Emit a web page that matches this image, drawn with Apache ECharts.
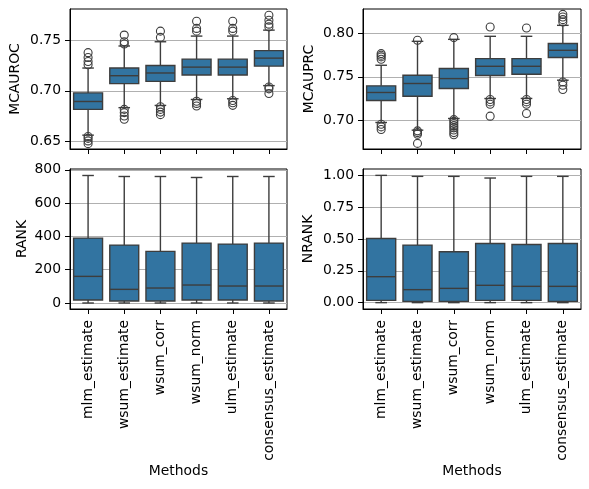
<!DOCTYPE html>
<html>
<head>
<meta charset="utf-8">
<script src="https://cdn.jsdelivr.net/npm/echarts@6/dist/echarts.min.js"></script>
<style>
  html, body { margin: 0; padding: 0; background: #ffffff; }
  #chart { width: 589px; height: 489px; }
</style>
</head>
<body>
<div id="chart"></div>
<script>
const methods = ['mlm_estimate', 'wsum_estimate', 'wsum_corr', 'wsum_norm', 'ulm_estimate', 'consensus_estimate']

// each row: [whisker low, q1, median, q3, whisker high]
const mcaurocStats = [
  [0.6562, 0.6817, 0.6895, 0.6980, 0.7226],
  [0.6834, 0.7072, 0.7150, 0.7226, 0.7444],
  [0.6856, 0.7094, 0.7177, 0.7251, 0.7486],
  [0.6915, 0.7157, 0.7235, 0.7314, 0.7542],
  [0.6922, 0.7157, 0.7235, 0.7314, 0.7542],
  [0.7052, 0.7245, 0.7324, 0.7398, 0.7601]
]
const mcaurocOutliers = [
  [0.7378, 0.7330, 0.7290, 0.7258, 0.6548, 0.6530, 0.6505, 0.6478],
  [0.7552, 0.7486, 0.7464, 0.6817, 0.6785, 0.6751, 0.6719],
  [0.7591, 0.7529, 0.6843, 0.6817, 0.6790, 0.6765],
  [0.7689, 0.7618, 0.7591, 0.6898, 0.6876, 0.6850],
  [0.7689, 0.7618, 0.7591, 0.6905, 0.6883, 0.6857],
  [0.7748, 0.7699, 0.7660, 0.7633, 0.7039, 0.7020, 0.6974]
]

const mcauprcStats = [
  [0.6972, 0.7227, 0.7319, 0.7396, 0.7634],
  [0.6883, 0.7276, 0.7423, 0.7518, 0.7911],
  [0.7018, 0.7365, 0.7480, 0.7596, 0.7934],
  [0.7249, 0.7515, 0.7622, 0.7711, 0.7969],
  [0.7250, 0.7530, 0.7622, 0.7711, 0.7969],
  [0.7461, 0.7723, 0.7807, 0.7885, 0.8096]
]
const mcauprcOutliers = [
  [0.7769, 0.7750, 0.7731, 0.7704, 0.6952, 0.6921, 0.6891],
  [0.7923, 0.6875, 0.6855, 0.6835, 0.6730],
  [0.7954, 0.7005, 0.6985, 0.6960, 0.6935, 0.6910, 0.6885, 0.6855, 0.6830],
  [0.8077, 0.7238, 0.7210, 0.7183, 0.7045],
  [0.8065, 0.7238, 0.7210, 0.7183, 0.7076],
  [0.8223, 0.8192, 0.8162, 0.8134, 0.7441, 0.7403, 0.7353]
]

const rankStats = [
  [0, 18, 160, 390, 766],
  [0, 12, 82, 348, 760],
  [0, 12, 90, 310, 760],
  [0, 18, 108, 360, 754],
  [0, 18, 102, 354, 760],
  [0, 12, 102, 360, 760]
]

const nrankStats = [
  [0, 0.018, 0.204, 0.504, 1.000],
  [0, 0.010, 0.102, 0.452, 0.992],
  [0, 0.010, 0.112, 0.400, 0.992],
  [0, 0.018, 0.136, 0.465, 0.979],
  [0, 0.018, 0.128, 0.457, 0.992],
  [0, 0.010, 0.128, 0.465, 0.992]
]

const mcaurocTicks = [0.65, 0.70, 0.75]
const mcauprcTicks = [0.70, 0.75, 0.80]
const rankTicks = [0, 200, 400, 600, 800]
const nrankTicks = [0, 0.25, 0.50, 0.75, 1.00]

const BOX_COLOR = '#3274a1'
const LINE_COLOR = '#3d3d3d'
const FONT = 'DejaVu Sans'
const FSIZE = 13.9

function renderBox (params, api) {
  let x = api.value(0)
  let lo = api.coord([x, api.value(1)])
  let q1 = api.coord([x, api.value(2)])
  let med = api.coord([x, api.value(3)])
  let q3 = api.coord([x, api.value(4)])
  let hi = api.coord([x, api.value(5)])
  let bw = api.size([1, 0])[0] * 0.8
  let cw = bw * 0.4
  let cx = lo[0]
  let ls = { stroke: LINE_COLOR, lineWidth: 1.4 }
  return {
    type: 'group',
    children: [
      { type: 'line', shape: { x1: cx, y1: q1[1], x2: cx, y2: lo[1] }, style: ls },
      { type: 'line', shape: { x1: cx, y1: q3[1], x2: cx, y2: hi[1] }, style: ls },
      { type: 'line', shape: { x1: cx - cw / 2, y1: lo[1], x2: cx + cw / 2, y2: lo[1] }, style: ls },
      { type: 'line', shape: { x1: cx - cw / 2, y1: hi[1], x2: cx + cw / 2, y2: hi[1] }, style: ls },
      { type: 'rect', shape: { x: cx - bw / 2, y: q3[1], width: bw, height: q1[1] - q3[1] }, style: { fill: BOX_COLOR, stroke: LINE_COLOR, lineWidth: 1.4 } },
      { type: 'line', shape: { x1: cx - bw / 2, y1: med[1], x2: cx + bw / 2, y2: med[1] }, style: ls }
    ]
  }
}

function makeXAxis (gridIndex, showLabels) {
  return {
    type: 'category',
    gridIndex: gridIndex,
    data: methods,
    boundaryGap: true,
    axisLine: { show: true, onZero: false, lineStyle: { color: '#000', width: 1 } },
    axisTick: { show: true, alignWithLabel: true, length: 5, lineStyle: { color: '#000', width: 1 } },
    axisLabel: { show: showLabels, rotate: 90, margin: 11, color: '#000', fontFamily: FONT, fontSize: FSIZE },
    splitLine: { show: false },
    name: showLabels ? 'Methods' : '',
    nameLocation: 'middle',
    nameGap: 155,
    nameTextStyle: { color: '#000', fontFamily: FONT, fontSize: FSIZE }
  }
}

function makeYAxis (gridIndex, name, min, max, ticks, digits, gap) {
  return {
    type: 'value',
    gridIndex: gridIndex,
    min: min,
    max: max,
    name: name,
    nameLocation: 'middle',
    nameRotate: 90,
    nameGap: gap,
    nameTextStyle: { color: '#000', fontFamily: FONT, fontSize: FSIZE },
    axisLine: { show: true, onZero: false, lineStyle: { color: '#000', width: 1 } },
    axisTick: { show: true, length: 5, customValues: ticks, lineStyle: { color: '#000', width: 1 } },
    axisLabel: {
      customValues: ticks,
      margin: 9,
      color: '#000',
      fontFamily: FONT,
      fontSize: FSIZE,
      formatter: function (v) { return digits > 0 ? v.toFixed(digits) : String(Math.round(v)) }
    },
    splitLine: { show: true, lineStyle: { color: '#b0b0b0', width: 1 } }
  }
}

function boxSeries (idx, stats) {
  let data = stats.map(function (s, i) { return [i].concat(s) })
  return {
    type: 'custom',
    xAxisIndex: idx,
    yAxisIndex: idx,
    renderItem: renderBox,
    encode: { x: 0, y: [1, 2, 3, 4, 5] },
    data: data,
    z: 2,
    silent: true
  }
}

function outlierSeries (idx, outliers) {
  let pts = []
  outliers.forEach(function (list, i) {
    list.forEach(function (v) { pts.push([i, v]) })
  })
  return {
    type: 'scatter',
    xAxisIndex: idx,
    yAxisIndex: idx,
    symbol: 'circle',
    symbolSize: 8,
    itemStyle: { color: 'rgba(0,0,0,0)', borderColor: LINE_COLOR, borderWidth: 1.1, opacity: 1 },
    data: pts,
    z: 3,
    silent: true
  }
}

let gridStyle = { show: true, borderColor: '#000', borderWidth: 1, backgroundColor: 'transparent' }

let option = {
  backgroundColor: '#ffffff',
  animation: false,
  grid: [
    Object.assign({ left: 70, top: 9, width: 217, height: 140 }, gridStyle),
    Object.assign({ left: 363, top: 9, width: 218, height: 140 }, gridStyle),
    Object.assign({ left: 70, top: 169, width: 217, height: 140 }, gridStyle),
    Object.assign({ left: 363, top: 169, width: 218, height: 140 }, gridStyle)
  ],
  xAxis: [
    makeXAxis(0, false),
    makeXAxis(1, false),
    makeXAxis(2, true),
    makeXAxis(3, true)
  ],
  yAxis: [
    makeYAxis(0, 'MCAUROC', 0.6425, 0.7810, mcaurocTicks, 2, 48),
    makeYAxis(1, 'MCAUPRC', 0.6665, 0.8285, mcauprcTicks, 2, 47),
    makeYAxis(2, 'RANK', -36, 805, rankTicks, 0, 41),
    makeYAxis(3, 'NRANK', -0.05, 1.05, nrankTicks, 2, 48)
  ],
  series: [
    boxSeries(0, mcaurocStats),
    outlierSeries(0, mcaurocOutliers),
    boxSeries(1, mcauprcStats),
    outlierSeries(1, mcauprcOutliers),
    boxSeries(2, rankStats),
    boxSeries(3, nrankStats)
  ]
}

let myChart = echarts.init(document.getElementById('chart'), null, { renderer: 'canvas' })
myChart.setOption(option)
</script>
</body>
</html>
